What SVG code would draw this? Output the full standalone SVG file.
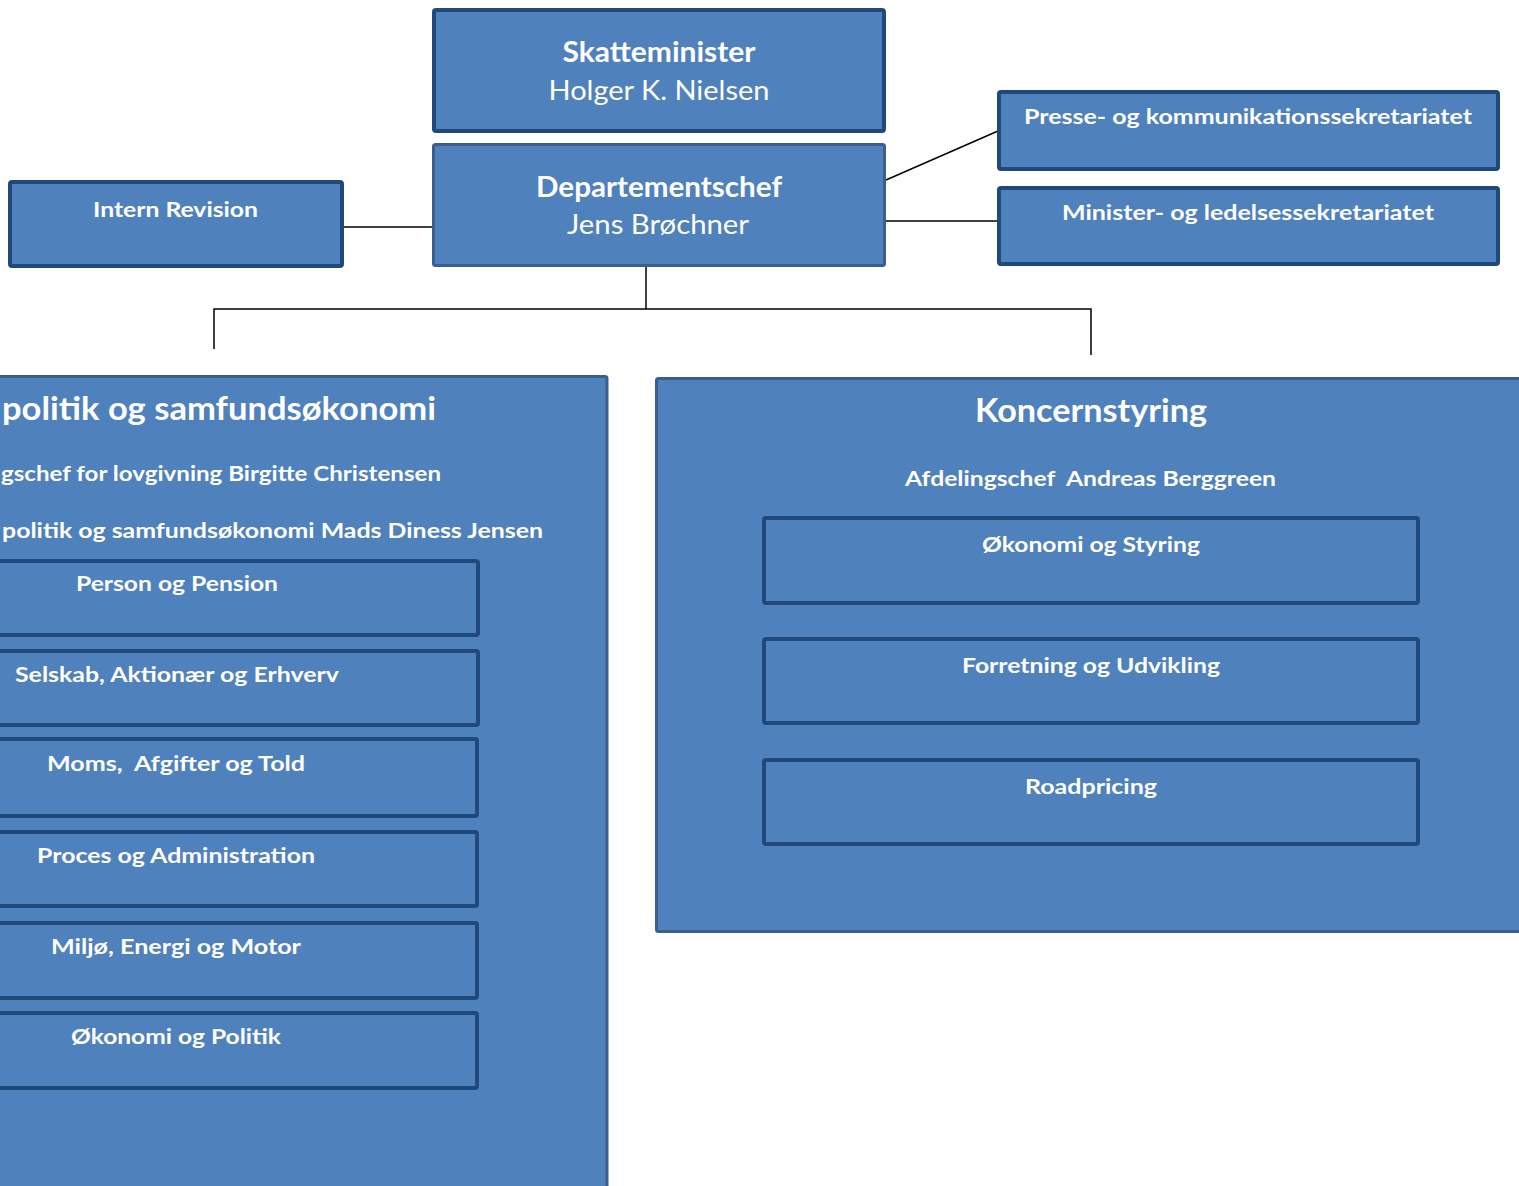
<svg xmlns="http://www.w3.org/2000/svg" width="1519" height="1186" viewBox="0 0 1519 1186">
<style>
.bx{fill:#4F81BD;stroke:#1F497D;stroke-width:4}
.bm{fill:#4F81BD;stroke:#3A5F8D;stroke-width:3}
.t{font-family:Lato,"Open Sans",sans-serif;fill:#FFFFFF;font-weight:bold;white-space:pre}
.r{font-weight:normal}
.c{text-anchor:middle}
.ln{stroke:#000;stroke-width:1.5;fill:none}
</style>
<rect width="1519" height="1186" fill="#FFFFFF"/>
<g id="connectors">
<line class="ln" x1="344" y1="227" x2="434" y2="227"/>
<line class="ln" x1="886" y1="180" x2="998" y2="131"/>
<line class="ln" x1="886" y1="221" x2="998" y2="221"/>
<polyline class="ln" points="646,267 646,309"/>
<polyline class="ln" points="214,349 214,309 1091,309 1091,355"/>
</g>
<g id="skatteminister">
<rect class="bx" x="434" y="10" width="450" height="121" rx="2"/>
<text class="t c" x="659" y="62" font-size="28" textLength="193" lengthAdjust="spacingAndGlyphs">Skatteminister</text>
<text class="t r c" x="659" y="100" font-size="27" textLength="221" lengthAdjust="spacingAndGlyphs">Holger K. Nielsen</text>
</g>
<g id="departementschef">
<rect class="bm" x="433.5" y="144.5" width="451" height="121" rx="2"/>
<text class="t c" x="659" y="197" font-size="28" textLength="246" lengthAdjust="spacingAndGlyphs">Departementschef</text>
<text class="t r c" x="658" y="234" font-size="27" textLength="182" lengthAdjust="spacingAndGlyphs">Jens Brøchner</text>
</g>
<g id="intern-revision">
<rect class="bx" x="10" y="182" width="332" height="84" rx="2"/>
<text class="t c" x="175.5" y="217" font-size="21" textLength="165" lengthAdjust="spacingAndGlyphs">Intern Revision</text>
</g>
<g id="presse">
<rect class="bx" x="999" y="92" width="499" height="77" rx="2"/>
<text class="t c" x="1248" y="124" font-size="21" textLength="448" lengthAdjust="spacingAndGlyphs">Presse- og kommunikationssekretariatet</text>
</g>
<g id="minister">
<rect class="bx" x="999" y="188" width="499" height="76" rx="2"/>
<text class="t c" x="1248" y="220" font-size="21" textLength="372" lengthAdjust="spacingAndGlyphs">Minister- og ledelsessekretariatet</text>
</g>
<g id="skattepolitik">
<rect class="bm" x="-20" y="376.5" width="627" height="830" rx="2"/>
<text class="t" x="2" y="420" font-size="33" textLength="434" lengthAdjust="spacingAndGlyphs">politik og samfundsøkonomi</text>
<text class="t" x="1" y="481" font-size="21" textLength="440" lengthAdjust="spacingAndGlyphs">gschef for lovgivning Birgitte Christensen</text>
<text class="t" x="2" y="538" font-size="21" textLength="541" lengthAdjust="spacingAndGlyphs">politik og samfundsøkonomi Mads Diness Jensen</text>
</g>
<g id="person-pension">
<rect class="bx" x="-130" y="561" width="608" height="74" rx="2"/>
<text class="t c" x="177" y="591" font-size="21" textLength="202" lengthAdjust="spacingAndGlyphs">Person og Pension</text>
</g>
<g id="selskab">
<rect class="bx" x="-130" y="651" width="608" height="74" rx="2"/>
<text class="t c" x="177" y="682" font-size="21" textLength="324" lengthAdjust="spacingAndGlyphs">Selskab, Aktionær og Erhverv</text>
</g>
<g id="moms">
<rect class="bx" x="-130" y="739" width="607" height="77" rx="2"/>
<text class="t c" x="176" y="771" font-size="21" textLength="258" lengthAdjust="spacingAndGlyphs" xml:space="preserve">Moms,  Afgifter og Told</text>
</g>
<g id="proces">
<rect class="bx" x="-130" y="832" width="607" height="74" rx="2"/>
<text class="t c" x="176" y="863" font-size="21" textLength="278" lengthAdjust="spacingAndGlyphs">Proces og Administration</text>
</g>
<g id="miljoe">
<rect class="bx" x="-130" y="923" width="607" height="75" rx="2"/>
<text class="t c" x="176" y="954" font-size="21" textLength="250" lengthAdjust="spacingAndGlyphs">Miljø, Energi og Motor</text>
</g>
<g id="oekonomi-politik">
<rect class="bx" x="-130" y="1013" width="607" height="75" rx="2"/>
<text class="t c" x="176" y="1044" font-size="21" textLength="210" lengthAdjust="spacingAndGlyphs">Økonomi og Politik</text>
</g>
<g id="koncernstyring">
<rect class="bm" x="656.5" y="378.5" width="880" height="553" rx="2"/>
<text class="t c" x="1091" y="422" font-size="33" textLength="232" lengthAdjust="spacingAndGlyphs">Koncernstyring</text>
<text class="t c" x="1090.5" y="486" font-size="21" textLength="371" lengthAdjust="spacingAndGlyphs" xml:space="preserve">Afdelingschef  Andreas Berggreen</text>
</g>
<g id="oekonomi-styring">
<rect class="bx" x="764" y="518" width="654" height="85" rx="2"/>
<text class="t c" x="1091" y="552" font-size="21" textLength="218" lengthAdjust="spacingAndGlyphs">Økonomi og Styring</text>
</g>
<g id="forretning">
<rect class="bx" x="764" y="639" width="654" height="84" rx="2"/>
<text class="t c" x="1091" y="673" font-size="21" textLength="258" lengthAdjust="spacingAndGlyphs">Forretning og Udvikling</text>
</g>
<g id="roadpricing">
<rect class="bx" x="764" y="760" width="654" height="84" rx="2"/>
<text class="t c" x="1091" y="794" font-size="21" textLength="132" lengthAdjust="spacingAndGlyphs">Roadpricing</text>
</g>
</svg>
